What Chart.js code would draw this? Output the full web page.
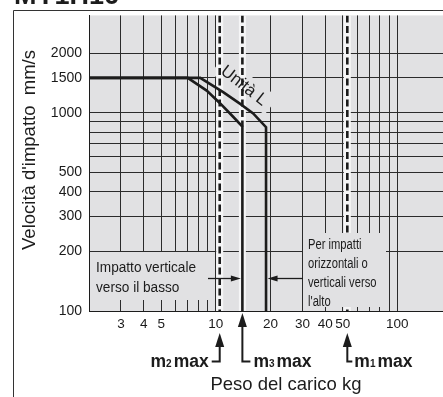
<!DOCTYPE html>
<html>
<head>
<meta charset="utf-8">
<script src="https://cdn.jsdelivr.net/npm/chart.js@4.4.0/dist/chart.umd.min.js"></script>
<style>
  html, body { margin: 0; padding: 0; background: #fff; overflow: hidden; }
  #wrap { position: relative; width: 443px; height: 397px; overflow: hidden; }
  canvas { display: block; }
</style>
</head>
<body>
<div id="wrap"><canvas id="c" width="460" height="397"></canvas></div>
<script>
// Axis ticks (log scales): load in kg, impact speed in mm/s
const xTicks = [2, 3, 4, 5, 6, 7, 8, 9, 10, 20, 30, 40, 50, 60, 70, 80, 90, 100, 200];
const xLabels = [3, 4, 5, 10, 20, 30, 40, 50, 100];
const yTicks = [100, 200, 300, 400, 500, 600, 700, 800, 900, 1000, 1500, 2000];
const yLabels = [100, 200, 300, 400, 500, 1000, 1500, 2000];

// Allowable impact speed vs. load, standard unit
const standardLoad  = [2, 7, 8.9, 10.5, 12.45, 14, 14];
const standardSpeed = [1500, 1500, 1294, 1121, 955, 852, 100];
// Allowable impact speed vs. load, L unit
const unitLLoad  = [2, 8.2, 10.97, 13.56, 16.05, 18.9, 18.9];
const unitLSpeed = [1500, 1500, 1271, 1112, 992, 846, 100];

// Maximum loads m2, m3, m1 (kg)
const maxDigits = ['2', '3', '1'];
const maxLoads = [10.5, 14, 53];

const X_MIN = 2, X_MAX = 200, Y_MIN = 100, Y_MAX = 3100;
const FONT = '"Liberation Sans", Arial, Helvetica, sans-serif';
const BG = '#e1e1e3';
const INK = '#1c1c1c';

const pts = (xs, ys) => xs.map((x, i) => ({ x, y: ys[i] }));
const lineStyle = { pointRadius: 0, showLine: true, fill: false, tension: 0,
                    borderCapStyle: 'butt', borderJoinStyle: 'miter' };

const datasets = [];
// light halo behind each max-load marker
maxLoads.forEach(m => datasets.push(Object.assign({
  data: pts([m, m], [Y_MAX, Y_MIN]), borderColor: '#f5f5f6', borderWidth: 7, order: 10
}, lineStyle)));
// dashed max-load markers (m3 stops where its curve turns vertical)
datasets.push(Object.assign({ data: pts([maxLoads[0], maxLoads[0]], [Y_MAX, Y_MIN]),
  borderColor: INK, borderWidth: 2.6, borderDash: [7, 3.5], order: 5 }, lineStyle));
datasets.push(Object.assign({ data: pts([maxLoads[1], maxLoads[1]], [Y_MAX, standardSpeed[5]]),
  borderColor: INK, borderWidth: 2.6, borderDash: [7, 3.5], order: 5 }, lineStyle));
datasets.push(Object.assign({ data: pts([maxLoads[2], maxLoads[2]], [Y_MAX, Y_MIN]),
  borderColor: INK, borderWidth: 2.6, borderDash: [7, 3.5], order: 5 }, lineStyle));
// speed limit curves
datasets.push(Object.assign({ data: pts(standardLoad, standardSpeed),
  borderColor: INK, borderWidth: 2.6, order: 1 }, lineStyle));
datasets.push(Object.assign({ data: pts(unitLLoad, unitLSpeed),
  borderColor: INK, borderWidth: 2.6, order: 1 }, lineStyle));

// anchor of the "Unità L" caption, in data units
const LABEL_LOAD = 14.27, LABEL_SPEED = 1366, LABEL_ANGLE = 38 * Math.PI / 180;

function text(ctx, s, x, y, font, align, sx, baseline) {
  ctx.save();
  ctx.translate(x, y);
  ctx.scale(sx || 1, 1);
  ctx.font = font;
  ctx.textAlign = align || 'left';
  ctx.textBaseline = baseline || 'middle';
  ctx.fillText(s, 0, 0);
  ctx.restore();
}

function hArrow(ctx, x0, tipX, y) {
  const dir = Math.sign(tipX - x0);
  ctx.beginPath();
  ctx.moveTo(x0, y);
  ctx.lineTo(tipX - dir * 8, y);
  ctx.lineWidth = 1.3;
  ctx.stroke();
  ctx.beginPath();
  ctx.moveTo(tipX, y);
  ctx.lineTo(tipX - dir * 10, y - 3);
  ctx.lineTo(tipX - dir * 10, y + 3);
  ctx.closePath();
  ctx.fill();
}

function upArrow(ctx, x, tipY, hookY, hookX) {
  ctx.beginPath();
  ctx.moveTo(x, tipY + 10);
  ctx.lineTo(x, hookY);
  ctx.lineTo(hookX, hookY);
  ctx.lineWidth = 2;
  ctx.stroke();
  ctx.beginPath();
  ctx.moveTo(x, tipY);
  ctx.lineTo(x - 4.5, tipY + 14);
  ctx.lineTo(x + 4.5, tipY + 14);
  ctx.closePath();
  ctx.fill();
}

// "m" + small digit + "max"
function maxLabel(ctx, digit, x, baseY, alignRight) {
  const big = 'bold 17.5px ' + FONT, small = 'bold 10px ' + FONT;
  ctx.font = big; const wm = ctx.measureText('m').width, wmax = ctx.measureText('max').width;
  ctx.font = small; const wd = ctx.measureText(digit).width;
  const total = wm + wd + 2 + wmax;
  const x0 = alignRight ? x - total : x;
  text(ctx, 'm', x0, baseY, big, 'left', 1, 'alphabetic');
  text(ctx, digit, x0 + wm, baseY, small, 'left', 1, 'alphabetic');
  text(ctx, 'max', x0 + wm + wd + 2, baseY, big, 'left', 1, 'alphabetic');
}

const deco = {
  id: 'deco',
  beforeDraw(chart) {
    const { ctx, chartArea: a } = chart;
    ctx.save();
    ctx.fillStyle = BG;
    ctx.fillRect(a.left, a.top, a.right - a.left, a.bottom - a.top);
    ctx.restore();
  },
  beforeDatasetsDraw(chart) {
    const { ctx, scales: { x, y } } = chart;
    ctx.save();
    ctx.fillStyle = BG;
    // panel behind the downward-impact note
    ctx.fillRect(90, 252, 119, 48);
    // panel behind the rotated curve caption
    ctx.translate(x.getPixelForValue(LABEL_LOAD), y.getPixelForValue(LABEL_SPEED));
    ctx.rotate(LABEL_ANGLE);
    ctx.fillRect(-34, -12, 68, 22);
    ctx.restore();
  },
  afterDatasetsDraw(chart) {
    const { ctx, scales: { x, y } } = chart;
    ctx.save();
    ctx.fillStyle = INK;
    ctx.strokeStyle = INK;

    // curve caption
    ctx.save();
    ctx.translate(x.getPixelForValue(LABEL_LOAD), y.getPixelForValue(LABEL_SPEED));
    ctx.rotate(LABEL_ANGLE);
    text(ctx, 'Unità L', 0, 0, '17px ' + FONT, 'center');
    ctx.restore();

    // downward impact note
    const condensed = '15.5px ' + FONT;
    text(ctx, 'Impatto verticale', 96, 268, condensed, 'left', 0.88);
    text(ctx, 'verso il basso', 96, 288, condensed, 'left', 0.88);
    hArrow(ctx, 208, x.getPixelForValue(maxLoads[1]) - 1.5, 278.5);

    // horizontal / upward impact note
    ctx.fillStyle = BG;
    ctx.fillRect(303, 233, 83, 74);
    ctx.fillStyle = INK;
    const small = '14px ' + FONT;
    text(ctx, 'Per impatti', 308, 245, small, 'left', 0.8);
    text(ctx, 'orizzontali o', 308, 264, small, 'left', 0.8);
    text(ctx, 'verticali verso', 308, 283, small, 'left', 0.8);
    text(ctx, "l'alto", 308, 302, small, 'left', 0.8);
    hArrow(ctx, 303, x.getPixelForValue(unitLLoad[unitLLoad.length - 1]) + 1.5, 278.5);

    // max-load pointers under the axis
    const px = maxLoads.map(m => x.getPixelForValue(m));
    upArrow(ctx, px[0], 333, 361.5, px[0] - 8);
    maxLabel(ctx, maxDigits[0], px[0] - 11, 367, true);
    upArrow(ctx, px[1], 313, 361.5, px[1] + 8);
    maxLabel(ctx, maxDigits[1], px[1] + 11, 367, false);
    upArrow(ctx, px[2], 333, 361.5, px[2] + 5);
    maxLabel(ctx, maxDigits[2], px[2] + 7, 367, false);

    // axis titles
    text(ctx, 'Peso del carico kg', 286, 385, '18.5px ' + FONT, 'center');
    ctx.save();
    ctx.translate(30, 150);
    ctx.rotate(-Math.PI / 2);
    text(ctx, "Velocità d'impatto  mm/s", 0, 0, '18.5px ' + FONT, 'center');
    ctx.restore();

    // outer frame and heading
    ctx.strokeStyle = '#333';
    ctx.lineWidth = 1;
    ctx.beginPath();
    ctx.moveTo(13.5, 397);
    ctx.lineTo(13.5, 10.5);
    ctx.lineTo(chart.width, 10.5);
    ctx.stroke();
    text(ctx, 'MY1H16', 14, 4, 'bold 27px ' + FONT, 'left', 1, 'alphabetic');
    ctx.restore();
  }
};

new Chart(document.getElementById('c'), {
  type: 'scatter',
  data: { datasets },
  plugins: [deco],
  options: {
    responsive: false,
    animation: false,
    events: [],
    layout: { padding: { left: 0, top: 10, right: 8, bottom: 56 } },
    plugins: { legend: { display: false }, tooltip: { enabled: false } },
    scales: {
      x: {
        type: 'logarithmic', min: X_MIN, max: X_MAX,
        afterBuildTicks: s => { s.ticks = xTicks.map(v => ({ value: v })); },
        afterFit: s => { s.height = 30; },
        grid: { color: '#2b2b2b', lineWidth: 1, drawTicks: false },
        border: { display: true, color: INK, width: 1 },
        ticks: {
          autoSkip: false, maxRotation: 0, minRotation: 0, padding: 5, color: '#1a1a1a',
          font: { family: FONT, size: 13.5 },
          callback: v => xLabels.includes(v) ? String(v) : ''
        }
      },
      y: {
        type: 'logarithmic', min: Y_MIN, max: Y_MAX,
        afterBuildTicks: s => { s.ticks = yTicks.map(v => ({ value: v })); },
        afterFit: s => { s.width = 89; },
        grid: { color: '#2b2b2b', lineWidth: 1, drawTicks: false },
        border: { display: true, color: INK, width: 1 },
        ticks: {
          autoSkip: false, padding: 7, color: '#1a1a1a',
          font: { family: FONT, size: 14 },
          callback: v => yLabels.includes(v) ? String(v) : ''
        }
      }
    }
  }
});
</script>
</body>
</html>
